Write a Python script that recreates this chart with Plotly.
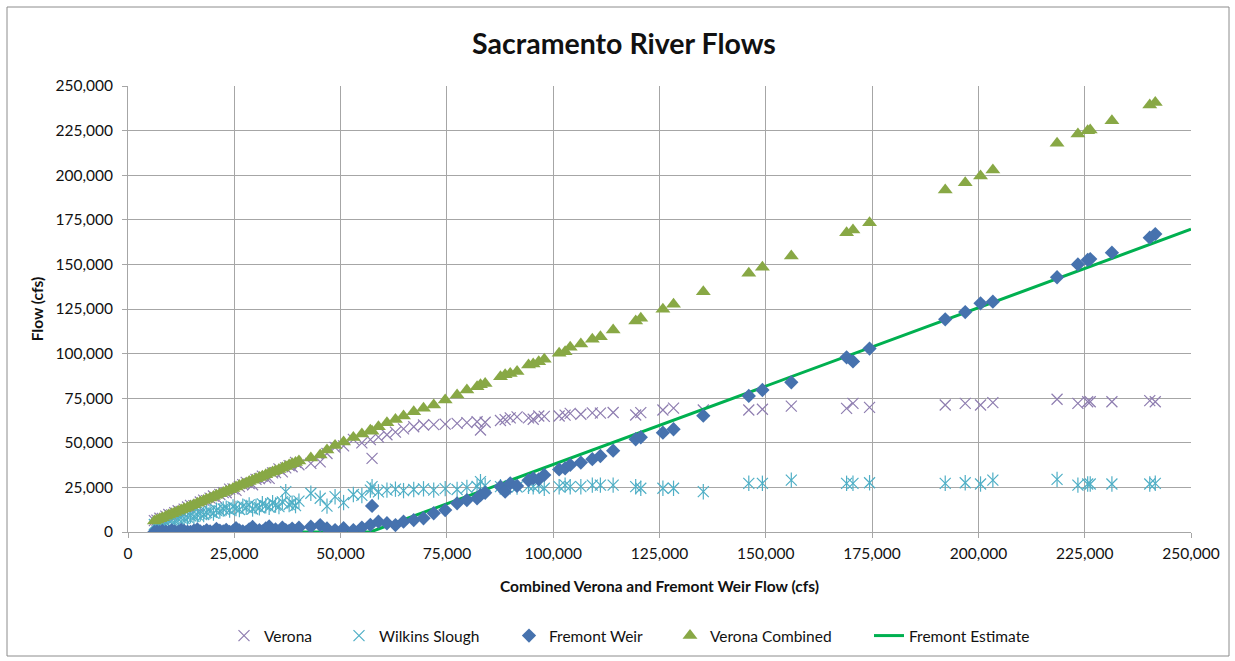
import plotly.graph_objects as go

# ---------------- data ----------------
combined_flow = [
    6200, 6800, 7500, 8100, 8900, 9600, 10300, 11000, 11800, 12500, 13200, 14000, 14700, 15500,
    16300, 17000, 17800, 18500, 19300, 20100, 20800, 21600, 22400, 23100, 23900, 24700, 25400,
    26200, 27000, 27800, 28500, 29300, 30100, 30900, 31600, 32400, 33200, 34000, 34700, 35500,
    36300, 37100, 37900, 38600, 39400, 40200,
    43000, 45200, 46800, 48700, 50700, 53000, 55000, 57000, 57400, 58900, 60900, 62900, 64800,
    67200, 69500, 71900, 74600, 77400, 79700, 82100, 82900, 84000, 87600, 88700, 89900, 91500, 94200,
    95300, 96600, 97900, 101400, 102800, 104000, 106500, 109200, 111100, 114100, 119400, 120600,
    125800, 128300, 135300,
    146000, 149200, 156000, 169000, 170500, 174400, 192200, 196900, 200500, 203400, 218500,
    223400, 225700, 226300, 231400, 240300, 241600,
]

verona_combined = [
    6100, 6700, 7400, 8000, 8800, 9500, 10200, 10900, 11600, 12400, 13100, 13800, 14600, 15300,
    16100, 16800, 17600, 18300, 19100, 19900, 20600, 21400, 22100, 22900, 23700, 24400, 25200,
    26000, 26700, 27500, 28300, 29000, 29800, 30600, 31300, 32100, 32900, 33600, 34400, 35100,
    35900, 36700, 37500, 38200, 39000, 39800,
    41500, 43200, 46000, 48500, 50400, 53000, 55000, 57000, 56500, 59000, 61200, 63100, 65000,
    67400, 69300, 71200, 74000, 76800, 79600, 81400, 82500, 83300, 87000, 88200, 88900, 89900, 93600,
    94200, 95500, 96800, 100200, 101100, 103500, 105400, 108000, 109500, 113200, 118300, 119800,
    124800, 127600, 134700,
    145000, 148400, 154700, 167800, 169300, 173400, 191700, 195800, 199500, 202900, 217900,
    223100, 224900, 225300, 230500, 239300, 240800,
]

fremont_weir = [
    0, 300, 0, 600, 200, 0, 900, 400, 0, 1200, 600, 200, 0, 800,
    1500, 300, 0, 1000, 400, 0, 1800, 700, 300, 1200, 0, 500, 2200,
    900, 400, 0, 1500, 2800, 600, 1000, 300, 2000, 3100, 800, 1400, 0,
    2500, 1100, 600, 1900, 300, 2400,
    3000, 3900, 2000, 1100, 2100, 1100, 2500, 4000, 14600, 5800, 4900, 3900, 5800,
    6700, 7700, 10500, 12300, 16100, 17900, 18900, 20700, 22000, 25400, 22600, 27300, 25800, 29000,
    30100, 29500, 32000, 35100, 35700, 37600, 38900, 40800, 42600, 45600, 52000, 53100,
    55700, 57600, 65200,
    76300, 79600, 83900, 97900, 95600, 102800, 119200, 123300, 128200, 129100, 142800,
    150000, 152500, 153000, 156600, 165000, 167000,
]

verona = [
    6400, 6700, 7700, 7600, 8900, 9800, 9600, 10800, 11900, 11500, 12800, 14000, 14900, 14800,
    14900, 16800, 17900, 17600, 19000, 20200, 19100, 21000, 22100, 22000, 24000, 24200, 23300,
    25400, 26600, 27800, 27100, 26500, 29500, 29900, 31300, 30400, 30100, 33100, 33300, 35400,
    33700, 35900, 37200, 36600, 39000, 37700,
    38500, 39300, 44000, 47400, 48300, 51900, 50000, 51800, 41300, 53200, 54500, 56000, 57800,
    59000, 60000, 60200, 60500, 60900, 61300, 61800, 57200, 61500, 62500, 63000, 64000, 64500, 64000,
    63200, 65000, 64800, 65000, 65500, 66500, 66000, 66800, 66600, 67000, 65600, 66900,
    68400, 69400, 68400,
    68400, 68800, 70600, 69300, 72100, 69900, 71200, 72100, 71200, 72500, 74400,
    72100, 73000, 73000, 73000, 73600, 73000,
]

wilkins_slough = [
    4200, 4800, 5100, 5600, 5300, 6200, 6700, 6400, 7300, 7900, 7600, 8300, 9100, 8700,
    9600, 10200, 9800, 10900, 11500, 10600, 12200, 11800, 12900, 13400, 12300, 14100, 13200,
    12600, 14500, 13800, 15200, 12900, 14300, 13600, 15800, 14700, 13900, 16400, 15100, 14200,
    16900, 22600, 15400, 16200, 14800, 17300,
    21700, 18900, 14500, 19800, 16500, 21000, 20500, 23500, 25400, 22500, 23500, 24000, 23200,
    23800, 24200, 23500, 24300, 23800, 25000, 25500, 28200, 26000, 25400, 24200, 26000, 25200, 25600,
    25400, 26300, 24500, 25400, 26300, 25400, 25400, 26300, 26300, 26300, 25400, 24500,
    24500, 24500, 22600,
    27300, 27300, 29100, 27300, 27300, 27600, 27300, 27600, 26900, 29100, 29500,
    26300, 26900, 26900, 26900, 26900, 27300,
]

estimate_x = [6000, 57000, 250000]
estimate_y = [0, 0, 169700]

x_ticks = [0, 25000, 50000, 75000, 100000, 125000, 150000, 175000, 200000, 225000, 250000]
y_ticks = [0, 25000, 50000, 75000, 100000, 125000, 150000, 175000, 200000, 225000, 250000]

# ---------------- styling ----------------
FONT = "Lato"
C_VERONA = "#8E7DB0"
C_WILKINS = "#4FAFC6"
C_FREMONT = "#4672AE"
C_COMBINED = "#88A845"
C_EST = "#00B050"
GRID = "#A6A6A6"
TXT = "#111111"

L, R, T, B = 128, 44, 86, 129
W, H = 1235, 661
pw, ph = W - L - R, H - T - B


def px_to_paper_x(px):
    return (px - L) / pw


def px_to_paper_y(py):
    return (H - B - py) / ph


fig = go.Figure()

fig.add_trace(go.Scatter(
    x=combined_flow, y=verona, mode="markers", name="Verona", legend="legend",
    marker=dict(symbol="x-thin-open", size=11, color=C_VERONA, line=dict(width=1.2, color=C_VERONA)),
))
fig.add_trace(go.Scatter(
    x=combined_flow, y=wilkins_slough, mode="markers", name="Wilkins Slough",
    legend="legend2", legendgroup="wilkins",
    marker=dict(symbol="x-thin-open", size=11, color=C_WILKINS, line=dict(width=1.2, color=C_WILKINS)),
))
fig.add_trace(go.Scatter(
    x=combined_flow, y=wilkins_slough, mode="markers", name="Wilkins Slough",
    legend="legend2", legendgroup="wilkins", showlegend=False,
    marker=dict(symbol="line-ns-open", size=11, color=C_WILKINS, line=dict(width=1.2, color=C_WILKINS)),
))
fig.add_trace(go.Scatter(
    x=estimate_x, y=estimate_y, mode="lines", name="Fremont Estimate", legend="legend5",
    line=dict(color=C_EST, width=3),
))
fig.add_trace(go.Scatter(
    x=combined_flow, y=fremont_weir, mode="markers", name="Fremont Weir", legend="legend3",
    marker=dict(symbol="diamond", size=11, color=C_FREMONT),
))
fig.add_trace(go.Scatter(
    x=combined_flow, y=verona_combined, mode="markers", name="Verona Combined", legend="legend4",
    marker=dict(symbol="triangle-up", size=13, color=C_COMBINED),
))

legend_font = dict(family=FONT, size=15.5, color=TXT)
legend_y = px_to_paper_y(636)


def legend_at(symbol_center_px):
    return dict(orientation="h", x=px_to_paper_x(symbol_center_px - 20), xanchor="left",
                y=legend_y, yanchor="middle", font=legend_font, bgcolor="rgba(0,0,0,0)",
                borderwidth=0)


fig.update_layout(
    width=W, height=H,
    margin=dict(l=L, r=R, t=T, b=B, pad=0, autoexpand=False),
    paper_bgcolor="white", plot_bgcolor="white",
    font=dict(family=FONT, color=TXT),
    title=dict(text="<b>Sacramento River Flows</b>", x=px_to_paper_x(624), xref="paper",
               xanchor="center", y=1 - 44 / H, yanchor="middle",
               font=dict(family=FONT, size=28.5, color=TXT)),
    showlegend=True,
    legend=legend_at(244),
    legend2=legend_at(359),
    legend3=legend_at(529),
    legend4=legend_at(690),
    legend5=legend_at(889),
    shapes=[dict(type="rect", xref="paper", yref="paper",
                 x0=px_to_paper_x(7), x1=px_to_paper_x(1229),
                 y0=px_to_paper_y(656), y1=px_to_paper_y(7),
                 line=dict(color="#8C8C8C", width=1), fillcolor="rgba(0,0,0,0)", layer="below")],
)

fig.update_xaxes(
    range=[0, 250000], tickvals=x_ticks, tickformat=",d",
    showgrid=True, gridcolor=GRID, gridwidth=1, zeroline=False,
    showline=True, linecolor=GRID, linewidth=1,
    ticks="outside", ticklen=5, tickcolor=GRID, ticklabelstandoff=2,
    tickfont=dict(family=FONT, size=15.5, color=TXT),
    title=dict(text="<b>Combined Verona and Fremont Weir Flow (cfs)</b>",
               font=dict(family=FONT, size=15.5, color=TXT), standoff=20),
)
fig.update_yaxes(
    range=[0, 250000], tickvals=y_ticks, tickformat=",d",
    showgrid=True, gridcolor=GRID, gridwidth=1, zeroline=False,
    showline=True, linecolor=GRID, linewidth=1,
    ticks="outside", ticklen=5, tickcolor=GRID, ticklabelstandoff=6,
    tickfont=dict(family=FONT, size=15.5, color=TXT),
    title=dict(text="<b>Flow (cfs)</b>", font=dict(family=FONT, size=15.5, color=TXT), standoff=8),
)

fig.write_html("out.html", config={"displayModeBar": False},
               post_script="document.body.style.margin='0px';")
